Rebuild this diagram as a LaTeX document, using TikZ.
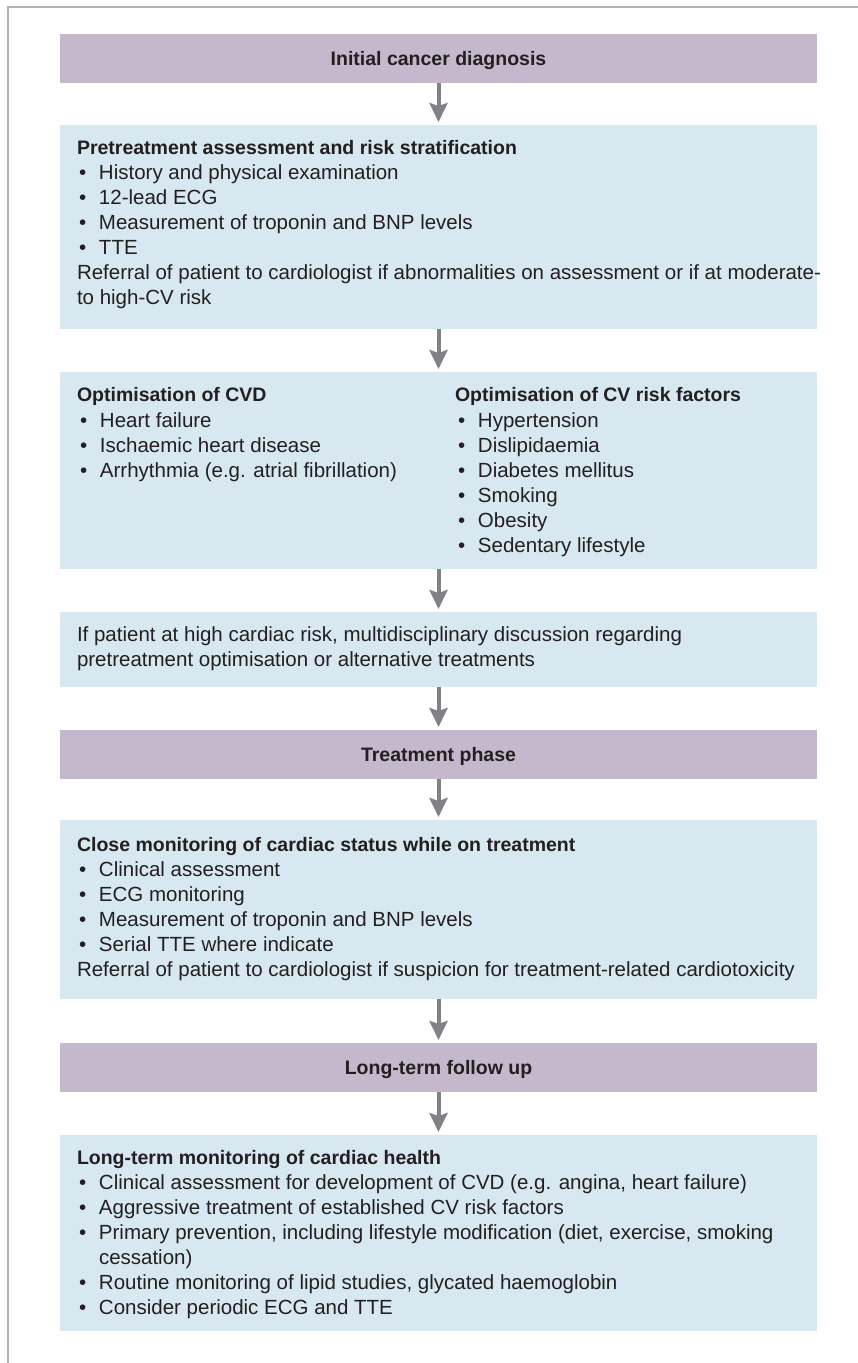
\documentclass[tikz,border=0pt]{standalone}
\usepackage{fontspec}
\setmainfont{Liberation Sans}
\usetikzlibrary{arrows.meta}
\definecolor{purplebox}{HTML}{C5B8CC}
\definecolor{bluebox}{HTML}{D8E8F1}
\definecolor{arrowgray}{HTML}{808285}
\definecolor{framegray}{HTML}{B4B4B4}
\definecolor{txtcol}{HTML}{231F20}
\newcommand{\blt}{\makebox[20pt][l]{•}}
\tikzset{
  boxbase/.style={inner sep=0pt, outer sep=0pt, anchor=north west, minimum width=757pt},
  pbox/.style={boxbase, fill=purplebox},
  bbox/.style={boxbase, fill=bluebox},
  txt/.style={inner sep=0pt, outer sep=0pt, anchor=base west, text=txtcol, font=\fontsize{20.5}{25}\selectfont},
  hdr/.style={inner sep=0pt, outer sep=0pt, anchor=base west, text=txtcol, font=\fontsize{19.5}{25}\selectfont\bfseries},
  ctitle/.style={inner sep=0pt, outer sep=0pt, anchor=base, text=txtcol, font=\fontsize{19.5}{25}\selectfont\bfseries},
  arr/.style={draw=arrowgray, line width=4pt, -{Stealth[length=19pt,width=18pt,inset=3pt]}, arrowgray}
}
\begin{document}
\begin{tikzpicture}[x=1pt,y=-1pt]
\useasboundingbox (0,0) rectangle (858,1363);
% frame
\draw[framegray, line width=1.5pt] (8,1363) -- (8,7) -- (858,7);

% boxes
\node[pbox, minimum height=49pt] (b1) at (60,34) {};
\node[bbox, minimum height=204pt] (b2) at (60,125) {};
\node[bbox, minimum height=197pt] (b3) at (60,372) {};
\node[bbox, minimum height=75pt] (b4) at (60,612) {};
\node[pbox, minimum height=49pt] (b5) at (60,730) {};
\node[bbox, minimum height=179pt] (b6) at (60,820) {};
\node[pbox, minimum height=49pt] (b7) at (60,1043) {};
\node[bbox, minimum height=196pt] (b8) at (60,1135) {};

% arrows
\draw[arr] (b1.south) -- ([yshift=3pt]b2.north);
\draw[arr] (b2.south) -- ([yshift=3pt]b3.north);
\draw[arr] (b3.south) -- ([yshift=3pt]b4.north);
\draw[arr] (b4.south) -- ([yshift=3pt]b5.north);
\draw[arr] (b5.south) -- ([yshift=3pt]b6.north);
\draw[arr] (b6.south) -- ([yshift=3pt]b7.north);
\draw[arr] (b7.south) -- ([yshift=3pt]b8.north);

% box 1
\node[ctitle] (t1) at (438.5,65.5) {Initial cancer diagnosis};

% box 2
\node[hdr] (t2h) at (77,154) {Pretreatment assessment and risk stratification};
\node[txt] (t2a) at (79,179) {\blt History and physical examination};
\node[txt] (t2b) at (79,204) {\blt 12-lead ECG};
\node[txt] (t2c) at (79,229) {\blt Measurement of troponin and BNP levels};
\node[txt] (t2d) at (79,254) {\blt TTE};
\node[txt] (t2e) at (77,279) {Referral of patient to cardiologist if abnormalities on assessment or if at moderate-};
\node[txt] (t2f) at (77,304) {to high-CV risk};

% box 3 left
\node[hdr] (t3h) at (77,401) {Optimisation of CVD};
\node[txt] (t3a) at (80,427) {\blt Heart failure};
\node[txt] (t3b) at (80,452) {\blt Ischaemic heart disease};
\node[txt] (t3c) at (80,477) {\blt Arrhythmia (e.g. atrial fibrillation)};
% box 3 right
\node[hdr] (t3rh) at (455,401) {Optimisation of CV risk factors};
\node[txt] (t3ra) at (458,427) {\blt Hypertension};
\node[txt] (t3rb) at (458,452) {\blt Dislipidaemia};
\node[txt] (t3rc) at (458,477) {\blt Diabetes mellitus};
\node[txt] (t3rd) at (458,502) {\blt Smoking};
\node[txt] (t3re) at (458,527) {\blt Obesity};
\node[txt] (t3rf) at (458,552) {\blt Sedentary lifestyle};

% box 4
\node[txt] (t4a) at (77,641) {If patient at high cardiac risk, multidisciplinary discussion regarding};
\node[txt] (t4b) at (77,666) {pretreatment optimisation or alternative treatments};

% box 5
\node[ctitle] (t5) at (438.5,761.5) {Treatment phase};

% box 6
\node[hdr] (t6h) at (77,851) {Close monitoring of cardiac status while on treatment};
\node[txt] (t6a) at (79,876) {\blt Clinical assessment};
\node[txt] (t6b) at (79,901) {\blt ECG monitoring};
\node[txt] (t6c) at (79,926) {\blt Measurement of troponin and BNP levels};
\node[txt] (t6d) at (79,951) {\blt Serial TTE where indicate};
\node[txt] (t6e) at (77,976) {Referral of patient to cardiologist if suspicion for treatment-related cardiotoxicity};

% box 7
\node[ctitle] (t7) at (438.5,1074.5) {Long-term follow up};

% box 8
\node[hdr] (t8h) at (77,1164) {Long-term monitoring of cardiac health};
\node[txt] (t8a) at (79,1189) {\blt Clinical assessment for development of CVD (e.g. angina, heart failure)};
\node[txt] (t8b) at (79,1214) {\blt Aggressive treatment of established CV risk factors};
\node[txt] (t8c) at (79,1239) {\blt Primary prevention, including lifestyle modification (diet, exercise, smoking};
\node[txt] (t8d) at (99,1264) {cessation)};
\node[txt] (t8e) at (79,1289) {\blt Routine monitoring of lipid studies, glycated haemoglobin};
\node[txt] (t8f) at (79,1314) {\blt Consider periodic ECG and TTE};
\end{tikzpicture}
\end{document}
